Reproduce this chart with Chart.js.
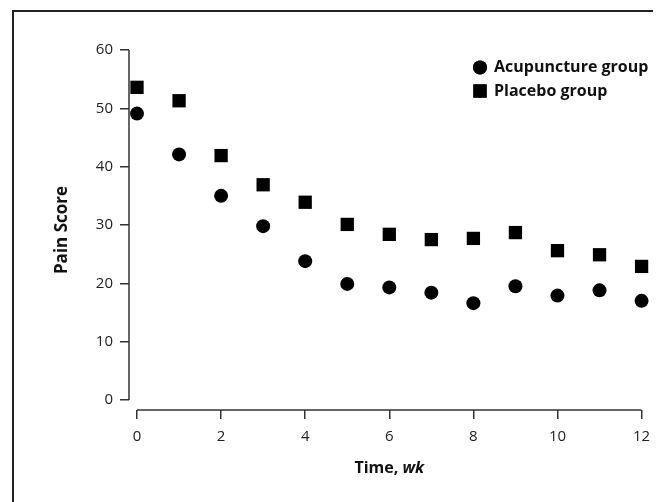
<!DOCTYPE html>
<html>
<head>
<meta charset="utf-8">
<script src="https://cdn.jsdelivr.net/npm/chart.js@4/dist/chart.umd.min.js"></script>
<style>
  html, body { margin: 0; padding: 0; background: #fff; }
  #wrap { position: relative; width: 658px; height: 502px; overflow: hidden; }
  #frame { position: absolute; left: 12px; top: 10px; width: 641px; height: 520px;
           border-left: 2px solid #222; border-top: 2px solid #222; box-sizing: border-box; }
  canvas { position: absolute; left: 0; top: 0; }
</style>
</head>
<body>
<div id="wrap">
  <div id="frame"></div>
  <canvas id="c" width="658" height="502"></canvas>
</div>
<script>
// ---- data ----
const weeks = [0, 1, 2, 3, 4, 5, 6, 7, 8, 9, 10, 11, 12];
const acupunctureScores = [49.1, 42.1, 35.0, 29.8, 23.8, 19.9, 19.3, 18.4, 16.6, 19.5, 17.9, 18.8, 17.0];
const placeboScores = [53.6, 51.3, 41.9, 36.9, 33.9, 30.1, 28.4, 27.5, 27.7, 28.7, 25.6, 24.9, 22.9];
const seriesNames = ['Acupuncture group', 'Placebo group'];
const yTickValues = [0, 10, 20, 30, 40, 50, 60];
const xTickValues = [0, 2, 4, 6, 8, 10, 12];
const yTitle = 'Pain Score';
const xTitleMain = 'Time, ';
const xTitleUnit = 'wk';

const FONT = "'Open Sans', 'DejaVu Sans', sans-serif";
const AXIS_COLOR = '#333';

function toPoints(xs, ys) { return xs.map((x, i) => ({ x: x, y: ys[i] })); }

const axisPlugin = {
  id: 'customAxes',
  afterDraw(chart) {
    const ctx = chart.ctx;
    const xs = chart.scales.x, ys = chart.scales.y;
    const area = chart.chartArea;
    ctx.save();
    ctx.strokeStyle = AXIS_COLOR;
    ctx.lineWidth = 1.5;
    // y axis line
    ctx.beginPath();
    ctx.moveTo(area.left, ys.getPixelForValue(yTickValues[0]));
    ctx.lineTo(area.left, ys.getPixelForValue(yTickValues[yTickValues.length - 1]));
    ctx.stroke();
    // x axis line
    ctx.beginPath();
    ctx.moveTo(xs.getPixelForValue(xTickValues[0]), area.bottom);
    ctx.lineTo(xs.getPixelForValue(xTickValues[xTickValues.length - 1]), area.bottom);
    ctx.stroke();

    // x title with italic unit
    const boldFont = "bold 16px " + FONT;
    const italFont = "italic bold 16px " + FONT;
    ctx.font = boldFont;
    const w1 = ctx.measureText(xTitleMain).width;
    ctx.font = italFont;
    const w2 = ctx.measureText(xTitleUnit).width;
    const cx = (xs.getPixelForValue(xTickValues[0]) + xs.getPixelForValue(xTickValues[xTickValues.length - 1])) / 2;
    const ty = 468;
    let sx = cx - (w1 + w2) / 2;
    ctx.fillStyle = '#111';
    ctx.textBaseline = 'middle';
    ctx.textAlign = 'left';
    ctx.font = boldFont;
    ctx.fillText(xTitleMain, sx, ty);
    ctx.font = italFont;
    ctx.fillText(xTitleUnit, sx + w1, ty);

    // legend
    const lx = 480, ly0 = 67.5, dy = 23.5;
    chart.data.datasets.forEach((ds, i) => {
      const y = ly0 + i * dy;
      Chart.helpers.drawPoint(ctx, {
        pointStyle: ds.pointStyle, radius: ds.pointRadius, borderWidth: 0, rotation: 0
      }, lx, y);
      ctx.fillStyle = '#000';
      ctx.fill();
      ctx.font = "bold 16px " + FONT;
      ctx.fillStyle = '#111';
      ctx.textBaseline = 'middle';
      ctx.textAlign = 'left';
      ctx.fillText(ds.label, 494, y);
    });
    ctx.restore();
  }
};

function keepTicks(values) {
  return function (scale) {
    scale.ticks = values.map(v => ({ value: v }));
  };
}

new Chart(document.getElementById('c'), {
  type: 'scatter',
  data: {
    datasets: [
      {
        label: seriesNames[0],
        data: toPoints(weeks, acupunctureScores),
        pointStyle: 'circle',
        pointRadius: 7,
        pointHoverRadius: 7,
        backgroundColor: '#000',
        borderWidth: 0,
        clip: false
      },
      {
        label: seriesNames[1],
        data: toPoints(weeks, placeboScores),
        pointStyle: 'rect',
        pointRadius: 9.4,
        pointHoverRadius: 9.4,
        backgroundColor: '#000',
        borderWidth: 0,
        clip: false
      }
    ]
  },
  options: {
    responsive: false,
    animation: false,
    events: [],
    layout: { padding: { left: 0, right: 0, top: 50, bottom: 0 } },
    plugins: { legend: { display: false }, tooltip: { enabled: false } },
    scales: {
      x: {
        type: 'linear',
        min: -0.1905,
        max: 12.167,
        border: { display: false },
        grid: { drawOnChartArea: false, drawTicks: true, tickLength: 9, color: AXIS_COLOR, lineWidth: 1.5 },
        ticks: { font: { family: FONT, size: 15 }, color: '#222', padding: 9, maxRotation: 0 },
        afterBuildTicks: keepTicks(xTickValues),
        afterFit(scale) { scale.height = 92; scale.paddingLeft = 0; scale.paddingRight = 0; }
      },
      y: {
        type: 'linear',
        min: -1.714,
        max: 60,
        border: { display: false },
        grid: { drawOnChartArea: false, drawTicks: true, tickLength: 9, color: AXIS_COLOR, lineWidth: 1.5 },
        ticks: { font: { family: FONT, size: 15 }, color: '#222', padding: 7 },
        afterBuildTicks: keepTicks(yTickValues),
        title: { display: true, text: yTitle, font: { family: FONT, size: 17, weight: 'bold' }, color: '#111', padding: { top: 52, bottom: 0 } },
        afterFit(scale) { scale.width = 129; scale.paddingTop = 0; scale.paddingBottom = 0; }
      }
    }
  },
  plugins: [axisPlugin]
});
</script>
</body>
</html>
